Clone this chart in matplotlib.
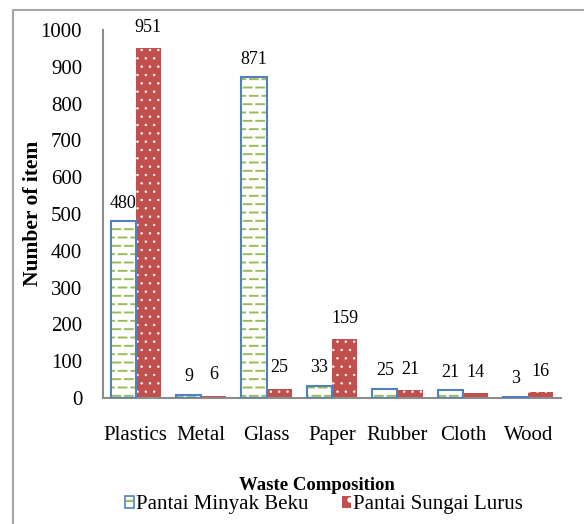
import numpy as np
import matplotlib
matplotlib.use("Agg")
import matplotlib.pyplot as plt
import matplotlib.hatch as mhatch
from matplotlib.path import Path
from matplotlib.patches import Rectangle, Patch
from matplotlib.lines import Line2D
from matplotlib.legend_handler import HandlerBase

# ---- data -------------------------------------------------------------
categories = ["Plastics", "Metal", "Glass", "Paper", "Rubber", "Cloth", "Wood"]
minyak_beku = [480, 9, 871, 33, 25, 21, 3]
sungai_lurus = [951, 6, 25, 159, 21, 14, 16]
series_names = ["Pantai Minyak Beku", "Pantai Sungai Lurus"]
y_ticks = list(range(0, 1001, 100))

# ---- colours ----------------------------------------------------------
BLUE = "#4F81BD"
GREEN = "#9BBB59"
RED = "#C0504D"
GREY = "#8C8C8C"


# Staggered short dashes for the '-' hatch (Excel-like "dashed horizontal")
class DashedHorizontalHatch(mhatch.HatchPatternBase):
    rows = 12
    cols = 8
    frac = 0.62

    def __init__(self, hatch, density):
        self._segs = []
        if hatch.count("-") > 0:
            p = 1.0 / self.cols
            d = p * self.frac
            for r in range(self.rows):
                y = (r + 0.5) / self.rows
                shift = 0.0 if r % 2 == 0 else p / 2
                for c in range(self.cols):
                    x0 = c * p + shift
                    x1 = x0 + d
                    if x1 <= 1.0:
                        self._segs.append((x0, x1, y))
                    else:
                        self._segs.append((x0, 1.0, y))
                        self._segs.append((0.0, x1 - 1.0, y))
        self.num_vertices = 2 * len(self._segs)

    def set_vertices_and_codes(self, vertices, codes):
        for i, (x0, x1, y) in enumerate(self._segs):
            vertices[2 * i] = (x0, y)
            vertices[2 * i + 1] = (x1, y)
            codes[2 * i] = Path.MOVETO
            codes[2 * i + 1] = Path.LINETO


mhatch._hatch_types = [DashedHorizontalHatch if t is mhatch.HorizontalHatch else t
                       for t in mhatch._hatch_types]


def hatch_width(patches, lw):
    for p in patches:
        if hasattr(p, "set_hatch_linewidth"):
            p.set_hatch_linewidth(lw)


class OutlinedDashBox(HandlerBase):
    """Legend key: white box with blue outline and a short green dash."""

    def create_artists(self, legend, orig_handle, xdescent, ydescent,
                       width, height, fontsize, trans):
        x0, y0 = -xdescent, -ydescent
        box = Rectangle((x0, y0), width, height, facecolor="white",
                        edgecolor=BLUE, linewidth=1.2, transform=trans)
        dash = Line2D([x0 + 1.2, x0 + width - 1.2],
                      [y0 + height * 0.62] * 2, color=GREEN,
                      linewidth=1.6, transform=trans)
        return [box, dash]


plt.rcParams["font.family"] = ["Liberation Serif", "DejaVu Serif"]
plt.rcParams["hatch.linewidth"] = 1.4

W, H = 584, 524
fig = plt.figure(figsize=(W / 100, H / 100), dpi=100)
fig.patch.set_facecolor("white")

# outer chart frame (open on the right and bottom)
fig.patches.append(Rectangle((13 / W, -0.1), 1.2, 1.1 - 9.5 / H,
                             transform=fig.transFigure, fill=False,
                             edgecolor="#A6A6A6", linewidth=1.5, clip_on=False))

ax = fig.add_axes([103 / W, 1 - 398 / H, 458 / W, 368 / H])

x = np.arange(len(categories))
bw = 0.385

# Pantai Minyak Beku: white fill, green dashes, blue outline
ax.bar(x - bw / 2, minyak_beku, bw, facecolor="white", edgecolor=GREEN,
       linewidth=0, hatch="-", zorder=2)
ax.bar(x - bw / 2, minyak_beku, bw, facecolor="none", edgecolor=BLUE,
       linewidth=1.5, zorder=3)
# Pantai Sungai Lurus: red fill with small white dots
red_bars = ax.bar(x + bw / 2, sungai_lurus, bw, facecolor=RED,
                  edgecolor="white", linewidth=0, hatch="..", zorder=2)
hatch_width(red_bars, 0.5)

for xi, v in zip(x - bw / 2, minyak_beku):
    ax.annotate(str(v), (xi, v), xytext=(0, 13), textcoords="offset points",
                ha="center", va="center", fontsize=13)
for xi, v in zip(x + bw / 2, sungai_lurus):
    ax.annotate(str(v), (xi, v), xytext=(0, 15), textcoords="offset points",
                ha="center", va="center", fontsize=13)

ax.set_xlim(-0.5, len(categories) - 0.5)
ax.set_ylim(0, 1000)
ax.set_yticks(y_ticks)
ax.set_xticks(x)
ax.set_xticklabels(categories)
ax.tick_params(axis="both", length=0, labelsize=15)
ax.tick_params(axis="y", pad=15)
ax.tick_params(axis="x", pad=20)

for s in ("top", "right"):
    ax.spines[s].set_visible(False)
for s in ("left", "bottom"):
    ax.spines[s].set_color(GREY)
    ax.spines[s].set_linewidth(1.5)

fig.text(33 / W, 1 - 213 / H, "Number of item", rotation=90, ha="center",
         va="center", fontsize=15.5, fontweight="bold")
fig.text(317 / W, 1 - 485 / H, "Waste Composition", ha="center",
         va="center", fontsize=13.5, fontweight="bold")

h1 = Patch(facecolor="white", edgecolor=BLUE)
h2 = Patch(facecolor=RED, edgecolor="white", linewidth=0, hatch=".")
hatch_width([h2], 0.5)
fig.legend([h1, h2], series_names, loc="center",
           bbox_to_anchor=(324 / W, 1 - 505 / H), ncol=2, frameon=False,
           fontsize=15, handlelength=0.42, handleheight=0.55,
           handletextpad=0.12, columnspacing=1.6, borderpad=0, borderaxespad=0,
           handler_map={h1: OutlinedDashBox()})

fig.savefig("out.png", dpi=100)
